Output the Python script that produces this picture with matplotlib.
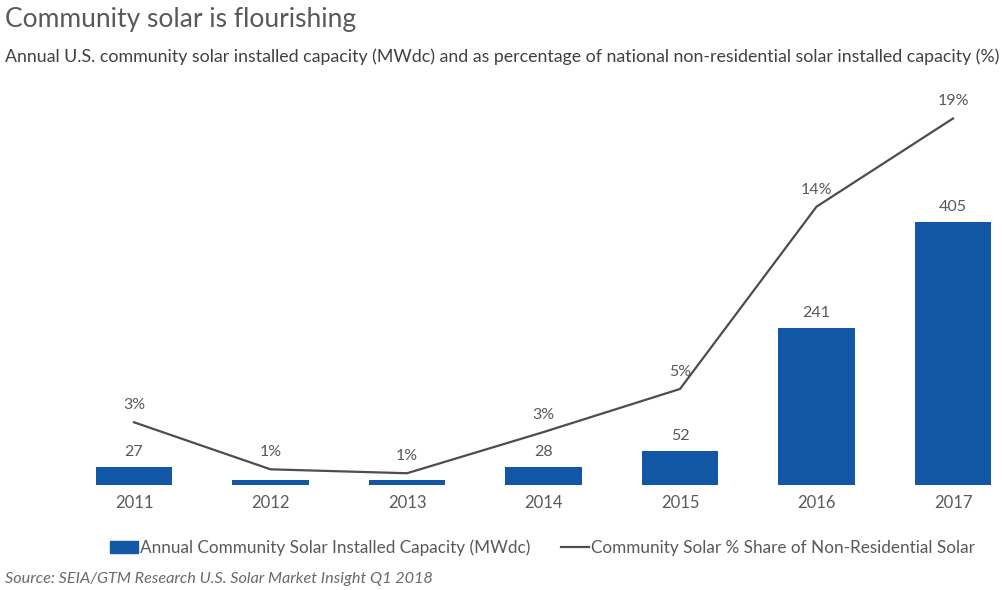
import numpy as np
import matplotlib.pyplot as plt
from matplotlib.patches import Patch
from matplotlib.lines import Line2D

# annual community solar installs (MWdc) and share of non-residential (%)
years = ['2011', '2012', '2013', '2014', '2015', '2016', '2017']
capacity_mw = [27, 8, 8, 28, 52, 241, 405]
capacity_labels = ['27', '', '', '28', '52', '241', '405']
share_pct = [3.2, 0.8, 0.6, 2.7, 4.9, 14.2, 18.7]

blue = '#1256a6'
grey = '#595959'
plt.rcParams['font.family'] = ['Lato', 'DejaVu Sans']

fig = plt.figure(figsize=(10.03, 5.90), dpi=100)
W, H = 1003, 590
# axes box in pixels: left, right, baseline, top
px_l, px_r, px_b, px_t = 60, 1000, 485, 100
ax = fig.add_axes([px_l / W, 1 - px_b / H, (px_r - px_l) / W, (px_b - px_t) / H])
ax2 = ax.twinx()

x = np.arange(len(years))
step = 136.5
ax.set_xlim(-(134 - px_l) / step, (px_r - 134) / step)
ax.set_ylim(0, (px_b - px_t) / 0.65)
ax2.set_ylim(0, (px_b - px_t) / 19.6)

ax.bar(x, capacity_mw, width=0.56, color=blue, zorder=2)
for xi, v, lab in zip(x, capacity_mw, capacity_labels):
    if lab:
        ax.annotate(lab, (xi, v), xytext=(0, 8), textcoords='offset pixels',
                    ha='center', va='bottom', fontsize=11.5, color=grey)

ax2.plot(x, share_pct, color='#4d4d4d', lw=1.6, zorder=3)
for xi, p in zip(x, share_pct):
    ax2.annotate(f'{p:.0f}%', (xi, p), xytext=(0, 10), textcoords='offset pixels',
                 ha='center', va='bottom', fontsize=11.5, color=grey)

ax.set_xticks(x)
ax.set_xticklabels(years, fontsize=12, color=grey)
ax.tick_params(axis='x', length=0, pad=7)
for a in (ax, ax2):
    a.set_yticks([])
    for s in a.spines.values():
        s.set_visible(False)

fig.text(5 / W, 1 - 20 / H, 'Community solar is flourishing', fontsize=19,
         color=grey, va='center', ha='left')
fig.text(5 / W, 1 - 57 / H,
         'Annual U.S. community solar installed capacity (MWdc) and as percentage '
         'of national non-residential solar installed capacity (%)',
         fontsize=12.75, color='#404040', va='center', ha='left')

handles = [Patch(color=blue),
           Line2D([], [], color='#4d4d4d', lw=1.6)]
labels = ['Annual Community Solar Installed Capacity (MWdc)',
          'Community Solar % Share of Non-Residential Solar']
fig.legend(handles, labels, loc='center left', bbox_to_anchor=(95 / W, 1 - 548 / H),
           ncol=2, frameon=False, fontsize=12.3, labelcolor=grey,
           handlelength=1.6, handletextpad=0.15, columnspacing=1.8)

fig.text(5 / W, 1 - 579 / H, 'Source: SEIA/GTM Research U.S. Solar Market Insight Q1 2018',
         fontsize=11.7, style='italic', color='#6a6a6a', va='center', ha='left')

fig.savefig('out.png', dpi=100)
